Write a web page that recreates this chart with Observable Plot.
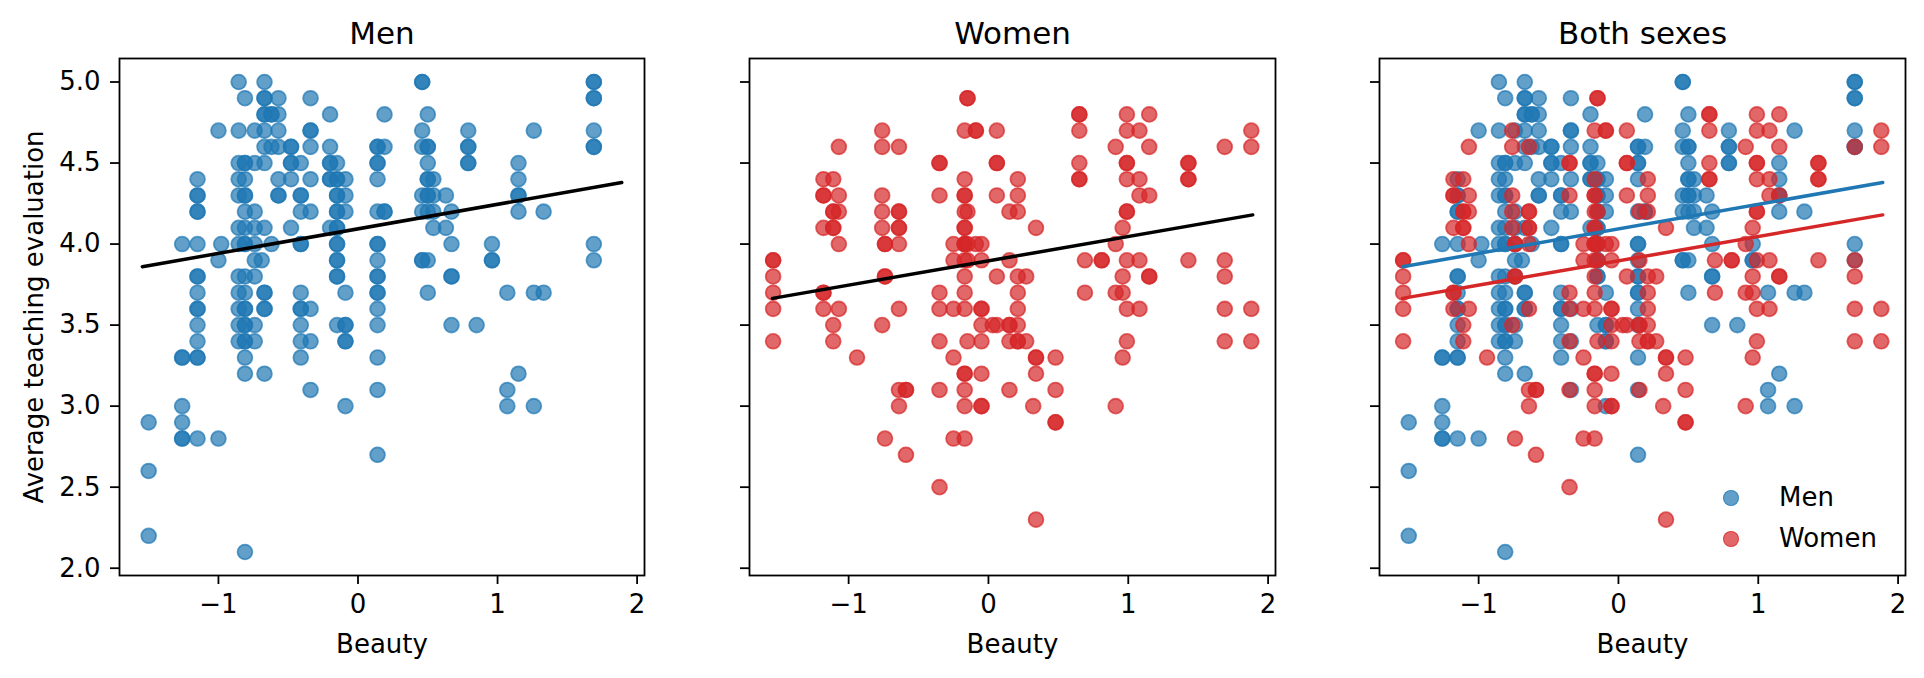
<!DOCTYPE html>
<html>
<head>
<meta charset="utf-8">
<script src="https://cdn.jsdelivr.net/npm/d3@7"></script>
<script src="https://cdn.jsdelivr.net/npm/@observablehq/plot@0.6"></script>
<style>
  html, body { margin: 0; padding: 0; background: #fff; }
  #fig { position: relative; width: 1924px; height: 678px; overflow: hidden; background: #fff; font-family: "DejaVu Sans", sans-serif; }
  #fig svg { position: absolute; top: 0; max-width: none !important; }
  .leg { position: absolute; font-size: 26px; line-height: 1; color: #000; white-space: nowrap; }
  .sw { position: absolute; width: 16.6px; height: 16.6px; border-radius: 50%; box-sizing: border-box; }
</style>
</head>
<body>
<div id="fig"></div>
<script>
// ---- data (beauty vs. average teaching evaluation) ----
const menBeauty = [-1.50, -1.26, -1.15, -1.00, -0.98, -0.855, -0.81, -0.74, -0.69, -0.67, -0.62, -0.57, -0.48, -0.41, -0.34, -0.20, -0.15, -0.09, 0.14, 0.19, 0.46, 0.50, 0.54, 0.63, 0.67, 0.79, 0.85, 0.96, 1.07, 1.15, 1.26, 1.33, 1.69];
const menEvals = [
  [2.9, 2.6, 2.2],
  [4.0, 3.3, 3.3, 3.0, 2.9, 2.8, 2.8],
  [4.4, 4.3, 4.3, 4.2, 4.2, 4.0, 3.8, 3.8, 3.7, 3.6, 3.6, 3.5, 3.4, 3.3, 3.3, 2.8],
  [4.7, 3.9, 2.8],
  [4.0],
  [5.0, 4.7, 4.5, 4.4, 4.3, 4.1, 4.0, 3.8, 3.7, 3.6, 3.5, 3.4],
  [4.9, 4.5, 4.5, 4.4, 4.3, 4.3, 4.2, 4.1, 4.0, 4.0, 3.8, 3.7, 3.6, 3.6, 3.5, 3.5, 3.4, 3.4, 3.3, 3.2, 2.1],
  [4.7, 4.5, 4.2, 4.1, 4.0, 3.9, 3.8, 3.5, 3.4],
  [3.9],
  [5.0, 4.9, 4.9, 4.8, 4.8, 4.7, 4.6, 4.5, 4.1, 3.7, 3.7, 3.6, 3.6, 3.2],
  [4.8, 4.8, 4.6, 4.0],
  [4.9, 4.8, 4.7, 4.6, 4.4, 4.3, 4.3],
  [4.6, 4.6, 4.5, 4.5, 4.4, 4.1],
  [4.5, 4.3, 4.3, 4.2, 4.0, 4.0, 3.7, 3.6, 3.6, 3.5, 3.4, 3.3],
  [4.9, 4.7, 4.7, 4.6, 4.4, 4.2, 3.6, 3.4, 3.1],
  [4.8, 4.6, 4.5, 4.5, 4.4, 4.4, 4.1],
  [4.5, 4.4, 4.4, 4.3, 4.3, 4.2, 4.2, 4.1, 4.1, 4.0, 4.0, 3.9, 3.9, 3.8, 3.8, 3.5],
  [4.4, 4.3, 4.2, 3.7, 3.5, 3.5, 3.4, 3.4, 3.0],
  [4.6, 4.6, 4.5, 4.5, 4.4, 4.2, 4.0, 4.0, 3.9, 3.8, 3.8, 3.7, 3.7, 3.6, 3.5, 3.3, 3.1, 2.7],
  [4.8, 4.6, 4.2, 4.2],
  [5.0, 5.0, 4.7, 4.6, 4.3, 4.2, 3.9, 3.9],
  [4.8, 4.6, 4.6, 4.5, 4.4, 4.4, 4.3, 4.3, 4.2, 3.9, 3.7],
  [4.4, 4.3, 4.2, 4.1],
  [4.3, 4.1],
  [4.2, 4.0, 3.8, 3.8, 3.5],
  [4.7, 4.6, 4.6, 4.5, 4.5],
  [3.5],
  [4.0, 3.9, 3.9],
  [3.7, 3.1, 3.0],
  [4.5, 4.4, 4.3, 4.3, 4.2, 3.2],
  [4.7, 3.7, 3.0],
  [4.2, 3.7],
  [5.0, 5.0, 4.9, 4.9, 4.7, 4.6, 4.6, 4.0, 3.9]
];

const womenBeauty = [-1.54, -1.18, -1.11, -1.07, -0.94, -0.76, -0.74, -0.64, -0.59, -0.35, -0.25, -0.17, -0.15, -0.09, -0.05, 0.03, 0.06, 0.15, 0.21, 0.27, 0.32, 0.34, 0.48, 0.65, 0.69, 0.81, 0.91, 0.96, 0.99, 1.08, 1.15, 1.43, 1.69, 1.88];
const womenEvals = [
  [3.9, 3.9, 3.8, 3.7, 3.6, 3.4],
  [4.4, 4.3, 4.3, 4.1, 3.7, 3.7, 3.6],
  [4.4, 4.2, 4.2, 4.1, 4.1, 3.5, 3.4],
  [4.6, 4.3, 4.2, 4.0, 3.6],
  [3.3],
  [4.7, 4.6, 4.3, 4.2, 4.1, 3.5],
  [4.0, 4.0, 3.8, 3.8, 2.8],
  [4.6, 4.2, 4.2, 4.1, 4.1, 4.0, 3.6, 3.1, 3.0],
  [3.1, 3.1, 2.7],
  [4.5, 4.5, 4.3, 3.7, 3.6, 3.4, 3.1, 2.5],
  [4.0, 3.9, 3.6, 3.3, 2.8],
  [4.7, 4.4, 4.3, 4.3, 4.2, 4.1, 4.1, 4.0, 4.0, 4.0, 3.9, 3.8, 3.7, 3.6, 3.2, 3.2, 3.1, 3.0, 2.8],
  [4.9, 4.9, 4.2, 4.0, 3.9, 3.4],
  [4.7, 4.7, 4.0],
  [4.0, 3.9, 3.6, 3.6, 3.5, 3.4, 3.2, 3.0, 3.0],
  [3.5],
  [4.7, 4.5, 4.5, 4.3, 3.8, 3.5],
  [4.2, 3.9, 3.5, 3.5, 3.4, 3.1],
  [4.4, 4.3, 4.2, 3.8, 3.7, 3.6, 3.5, 3.4, 3.4],
  [3.8, 3.4],
  [3.0],
  [4.1, 3.3, 3.3, 3.2, 2.3],
  [3.3, 3.1, 2.9, 2.9],
  [4.8, 4.8, 4.7, 4.5, 4.4, 4.4],
  [3.9, 3.7],
  [3.9, 3.9],
  [4.6, 4.0, 3.7, 3.0],
  [4.1, 3.8, 3.7, 3.3],
  [4.8, 4.7, 4.5, 4.5, 4.4, 4.2, 4.2, 3.9, 3.6, 3.4],
  [4.7, 4.4, 4.3, 3.9, 3.6],
  [4.8, 4.6, 4.3, 3.8, 3.8],
  [4.5, 4.5, 4.4, 4.4, 3.9],
  [4.6, 3.9, 3.8, 3.6, 3.4],
  [4.7, 4.6, 3.6, 3.4]
];

// fitted lines (eval ~ beauty + female), endpoints
const fitBeauty = [-1.545, 1.89];
const menFit = [3.86, 4.38];
const womenFit = [3.665, 4.18];

const panelTitles = ["Men", "Women", "Both sexes"];
const xTicks = [-1, 0, 1, 2];
const yTicks = [2.0, 2.5, 3.0, 3.5, 4.0, 4.5, 5.0];
const xLabel = "Beauty";
const yLabel = "Average teaching evaluation";
const legendLabels = ["Men", "Women"];

// ---- build tables ----
const toRows = (xs, ys) => xs.flatMap((x, i) => ys[i].map(y => ({beauty: x, evaluation: y})));
const menRows = toRows(menBeauty, menEvals);
const womenRows = toRows(womenBeauty, womenEvals);
const menLine = fitBeauty.map((x, i) => ({beauty: x, evaluation: menFit[i]}));
const womenLine = fitBeauty.map((x, i) => ({beauty: x, evaluation: womenFit[i]}));

const BLUE = "#1f77b4", RED = "#d62728";
const xDomain = [-1.709, 2.053];
const yDomain = [1.955, 5.145];

const dots = (rows, color) => Plot.dot(rows, {
  x: "beauty", y: "evaluation", r: 7.4,
  fill: color, fillOpacity: 0.7, stroke: color, strokeOpacity: 0.7, strokeWidth: 1.8
});
const line = (rows, color) => Plot.line(rows, {x: "beauty", y: "evaluation", stroke: color, strokeWidth: 3.5});
const fmtX = d => d < 0 ? "\u2212" + Math.abs(d) : String(d);

function panel({title, marks, showY, width, mL, mR}) {
  return Plot.plot({
    width, height: 678,
    marginTop: 58, marginBottom: 103, marginLeft: mL, marginRight: mR,
    x: {domain: xDomain},
    y: {domain: yDomain},
    style: {fontFamily: "DejaVu Sans", fontSize: "26px", color: "black", background: "white", overflow: "visible"},
    marks: [
      ...marks,
      Plot.frame({stroke: "black", strokeWidth: 1.8}),
      Plot.axisX({ticks: xTicks, tickSize: 9, tickPadding: 10, strokeWidth: 1.8, tickFormat: fmtX, label: null, fontSize: 26}),
      Plot.axisY({ticks: yTicks, tickSize: 9, tickPadding: 10, strokeWidth: 1.8,
        tickFormat: showY ? (d => d.toFixed(1)) : (() => ""), label: null, fontSize: 26}),
      Plot.text([title], {frameAnchor: "top", textAnchor: "middle", lineAnchor: "bottom", dy: -15, fontSize: 31, text: d => d}),
      Plot.text([xLabel], {frameAnchor: "bottom", textAnchor: "middle", lineAnchor: "bottom", dy: 77, fontSize: 26, text: d => d}),
      ...(showY ? [Plot.text([yLabel], {frameAnchor: "left", textAnchor: "middle", lineAnchor: "bottom", rotate: -90, dx: -77, fontSize: 26, text: d => d})] : [])
    ]
  });
}

const fig = document.getElementById("fig");
const p1 = panel({title: panelTitles[0], showY: true, width: 660, mL: 119, mR: 16,
  marks: [dots(menRows, BLUE), line(menLine, "black")]});
const p2 = panel({title: panelTitles[1], showY: false, width: 630, mL: 89, mR: 15,
  marks: [dots(womenRows, RED), line(womenLine, "black")]});
const p3 = panel({title: panelTitles[2], showY: false, width: 634, mL: 89, mR: 19,
  marks: [dots(menRows, BLUE), dots(womenRows, RED), line(menLine, BLUE), line(womenLine, RED)]});
p1.style.left = "0px"; p2.style.left = "660px"; p3.style.left = "1290px";
fig.append(p1, p2, p3);

// legend (lower right of the third panel)
const legColors = [BLUE, RED];
const legTops = [498, 539];
legendLabels.forEach((lab, i) => {
  const sw = document.createElement("span");
  sw.className = "sw";
  const c = d3.color(legColors[i]); c.opacity = 0.7;
  sw.style.background = c.formatRgb();
  sw.style.border = "1.8px solid " + c.formatRgb();
  sw.style.left = (1731 - 8.3) + "px";
  sw.style.top = (legTops[i] - 8.3) + "px";
  fig.append(sw);
  const t = document.createElement("div");
  t.className = "leg";
  t.textContent = lab;
  t.style.left = "1779px";
  t.style.top = (legTops[i] - 14) + "px";
  fig.append(t);
});
</script>
</body>
</html>
